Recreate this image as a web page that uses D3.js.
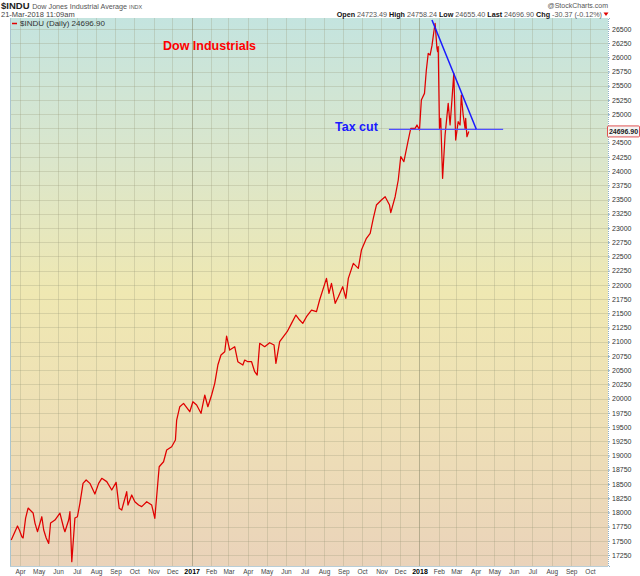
<!DOCTYPE html>
<meta charset="utf-8">
<head>
    <style>
        body { margin: 0; background: #fff; }
        text { font-family: "Liberation Sans", Arial, sans-serif; }
    </style>
</head>
<body>
<div id="chart"></div>

<script src="https://d3js.org/d3.v7.min.js"></script>
<script>
    // ---- data ----
    let dates = [
        "2016-03-18","2016-03-28","2016-03-31","2016-04-04","2016-04-06","2016-04-10","2016-04-14","2016-04-22",
        "2016-04-25","2016-04-29","2016-05-06","2016-05-09","2016-05-13","2016-05-17","2016-05-20","2016-05-27",
        "2016-06-04","2016-06-10","2016-06-12","2016-06-18","2016-06-20","2016-06-23","2016-06-28","2016-07-02",
        "2016-07-06","2016-07-11","2016-07-16","2016-07-22","2016-07-30","2016-08-05","2016-08-10","2016-08-18",
        "2016-08-26","2016-09-02","2016-09-07","2016-09-11","2016-09-19","2016-09-21","2016-09-27","2016-10-02",
        "2016-10-08","2016-10-13","2016-10-21","2016-10-29","2016-11-03","2016-11-10","2016-11-17","2016-11-22",
        "2016-11-30","2016-12-06","2016-12-08","2016-12-13","2016-12-19","2016-12-29",
        "2017-01-03","2017-01-09","2017-01-16","2017-01-22","2017-01-27","2017-02-02","2017-02-07","2017-02-12",
        "2017-02-17","2017-02-23","2017-02-26","2017-03-03","2017-03-11","2017-03-16","2017-03-24","2017-03-27",
        "2017-04-01","2017-04-07","2017-04-12","2017-04-16","2017-04-20","2017-04-28","2017-05-06","2017-05-13",
        "2017-05-16","2017-05-22","2017-05-28","2017-06-03","2017-06-10","2017-06-17","2017-06-23","2017-06-28",
        "2017-07-04","2017-07-12","2017-07-20","2017-07-25","2017-08-05","2017-08-09","2017-08-13","2017-08-19",
        "2017-08-24","2017-08-31","2017-09-05","2017-09-09","2017-09-17","2017-09-25","2017-09-30","2017-10-08",
        "2017-10-14","2017-10-19","2017-10-24","2017-11-01","2017-11-07","2017-11-14","2017-11-16","2017-11-23",
        "2017-11-28","2017-12-02","2017-12-07","2017-12-14","2017-12-18","2017-12-25","2017-12-28",
        "2018-01-01","2018-01-04","2018-01-09","2018-01-12","2018-01-15","2018-01-18","2018-01-21","2018-01-24",
        "2018-01-26","2018-01-29","2018-01-30","2018-01-31","2018-02-02","2018-02-04","2018-02-07","2018-02-11",
        "2018-02-16","2018-02-19","2018-02-21","2018-02-25","2018-02-28","2018-03-04","2018-03-07","2018-03-09",
        "2018-03-12","2018-03-15","2018-03-16","2018-03-18","2018-03-21"
    ];
    let closes = [
        17514,17760,17690,17572,17550,17900,18076,17990,
        17812,17660,17923,17690,17549,17455,17812,17865,
        17988,17725,17660,17865,18011,17132,17900,17923,
        18159,18510,18569,18510,18322,18510,18598,18540,
        18393,18528,18071,18041,18363,18129,18305,18187,
        18129,18100,18187,18129,17895,18802,18890,19096,
        19153,19271,19623,19857,19916,19769,
        19945,19887,19741,20063,19857,20063,20268,20590,
        20766,20824,21100,20854,20912,20648,20590,20678,
        20648,20648,20473,20414,20972,20912,20982,20942,
        20620,21000,21088,21176,21323,21469,21381,21323,
        21440,21557,21528,21733,22114,21850,22026,21675,
        21791,21967,21763,22114,22378,22290,22612,22817,
        22905,23169,23403,23491,23549,23403,23268,23549,
        23843,24253,24165,24546,24751,24751,24810,
        24722,25249,25366,25776,26069,26040,26204,26450,
        26597,26157,26098,26186,24751,24927,23872,24634,
        25190,24810,25102,25717,24546,24868,24810,25337,
        24986,24751,24927,24604,24697
    ];
    let lastPrice = "24696.90";
    let yTicks = d3.range(17250, 26501, 250);
    let hiddenTick = 24750;   // covered by the last-price tag
    let monthNames = ["Jan","Feb","Mar","Apr","May","Jun","Jul","Aug","Sep","Oct","Nov","Dec"];

    // annotations
    let taxCutDates = ["2017-11-13", "2018-05-15"];
    let taxCutLevel = 24734;
    let trendDates = ["2018-01-21", "2018-04-02"];
    let trendValues = [26656, 24734];

    let quoteItems = [
        ["Open", "24723.49"], ["High", "24758.24"], ["Low", "24655.40"],
        ["Last", "24696.90"], ["Chg", "-30.37 (-0.12%)"]
    ];

    // ---- setup ----
    let svgWidth = 640, svgHeight = 576;
    let plot = {left: 10, right: 608, top: 18, bottom: 566};
    let parse = d3.timeParse("%Y-%m-%d");

    let data = dates.map((d, i) => ({date: parse(d), close: closes[i]}));

    let x = d3.scaleTime()
        .domain([parse("2016-03-16"), parse("2018-10-30")])
        .range([plot.left, plot.right]);
    let y = d3.scaleLinear()
        .domain([17057, 26691])
        .range([plot.bottom, plot.top]);

    let monthTicks = d3.timeMonth.range(parse("2016-04-01"), parse("2018-10-02"));

    let svg = d3.select('#chart').append('svg')
        .attr('width', svgWidth)
        .attr('height', svgHeight);

    // background gradient
    let grad = svg.append('defs').append('linearGradient')
        .attr('id', 'bg').attr('x1', 0).attr('y1', 0).attr('x2', 0).attr('y2', 1);
    grad.append('stop').attr('offset', '0%').attr('stop-color', '#c4e4df');
    grad.append('stop').attr('offset', '25%').attr('stop-color', '#dae6cc');
    grad.append('stop').attr('offset', '50%').attr('stop-color', '#efe8b2');
    grad.append('stop').attr('offset', '75%').attr('stop-color', '#eedfb6');
    grad.append('stop').attr('offset', '100%').attr('stop-color', '#ead3ba');

    svg.append('rect')
        .attr('x', plot.left).attr('y', plot.top)
        .attr('width', plot.right - plot.left)
        .attr('height', plot.bottom - plot.top)
        .attr('fill', 'url(#bg)');

    // grid
    svg.append('g').selectAll('line')
        .data(yTicks).enter().append('line')
        .attr('x1', plot.left).attr('x2', plot.right)
        .attr('y1', d => Math.round(y(d)) + 0.5).attr('y2', d => Math.round(y(d)) + 0.5)
        .attr('stroke', 'rgba(150,150,120,0.28)');
    svg.append('g').selectAll('line')
        .data(monthTicks).enter().append('line')
        .attr('y1', plot.top).attr('y2', plot.bottom)
        .attr('x1', d => Math.round(x(d)) + 0.5).attr('x2', d => Math.round(x(d)) + 0.5)
        .attr('stroke', d => d.getMonth() === 0 ? 'rgba(130,130,100,0.5)' : 'rgba(150,150,120,0.28)');

    // frame
    svg.append('line')
        .attr('x1', plot.left + 0.5).attr('x2', plot.left + 0.5)
        .attr('y1', plot.top).attr('y2', plot.bottom)
        .attr('stroke', '#a9c4cf');
    svg.append('line')
        .attr('x1', plot.left).attr('x2', plot.right)
        .attr('y1', plot.bottom + 0.5).attr('y2', plot.bottom + 0.5)
        .attr('stroke', '#b9cdd6');

    // right axis
    let yAxis = svg.append('g')
        .attr('transform', `translate(${plot.right}, 0)`)
        .call(d3.axisRight(y).tickValues(yTicks).tickSize(2).tickPadding(2)
            .tickFormat(d => d === hiddenTick ? '' : d3.format('d')(d)));
    yAxis.select('.domain').attr('stroke', '#8fb0c8').attr('stroke-dasharray', '1,1');
    yAxis.selectAll('.tick line').attr('stroke', '#8fb0c8');
    yAxis.selectAll('text')
        .style('font-family', '"Liberation Sans", Arial, sans-serif')
        .style('font-size', '7px').attr('fill', '#333');

    // bottom axis
    let xAxis = svg.append('g')
        .attr('transform', `translate(0, ${plot.bottom})`)
        .call(d3.axisBottom(x).tickValues(monthTicks).tickSize(0).tickPadding(3)
            .tickFormat(d => d.getMonth() === 0 ? d.getFullYear() : monthNames[d.getMonth()]));
    xAxis.select('.domain').remove();
    xAxis.selectAll('text')
        .style('font-family', '"Liberation Sans", Arial, sans-serif')
        .style('font-size', d => d.getMonth() === 0 ? '7px' : '6.5px')
        .style('font-weight', d => d.getMonth() === 0 ? 'bold' : 'normal')
        .attr('fill', d => d.getMonth() === 0 ? '#000' : '#444');

    // price line
    svg.append('path')
        .datum(data)
        .attr('fill', 'none')
        .attr('stroke', '#e00000')
        .attr('stroke-width', 1.25)
        .attr('stroke-linejoin', 'round')
        .attr('d', d3.line().x(d => x(d.date)).y(d => y(d.close)));

    // annotation lines
    svg.append('line')
        .attr('x1', x(parse(taxCutDates[0]))).attr('x2', x(parse(taxCutDates[1])))
        .attr('y1', y(taxCutLevel)).attr('y2', y(taxCutLevel))
        .attr('stroke', '#5050ff').attr('stroke-width', 1.2);
    svg.append('line')
        .attr('x1', x(parse(trendDates[0]))).attr('x2', x(parse(trendDates[1])))
        .attr('y1', y(trendValues[0])).attr('y2', y(trendValues[1]))
        .attr('stroke', '#1a1aff').attr('stroke-width', 1.5);

    svg.append('text')
        .attr('x', 163).attr('y', 50)
        .style('font-size', '12.5px').style('font-weight', 'bold')
        .attr('fill', '#ff0000')
        .text('Dow Industrials');
    svg.append('text')
        .attr('x', 335).attr('y', 131)
        .style('font-size', '12.5px').style('font-weight', 'bold')
        .attr('fill', '#1a1aff')
        .text('Tax cut');

    // legend
    svg.append('line')
        .attr('x1', 12).attr('x2', 17).attr('y1', 23.5).attr('y2', 23.5)
        .attr('stroke', '#e00000').attr('stroke-width', 1.5);
    svg.append('text')
        .attr('x', 20).attr('y', 26)
        .style('font-size', '8px').attr('fill', '#333')
        .text('$INDU (Daily) ' + lastPrice);

    // last price tag
    let lastY = y(closes[closes.length - 1]);
    svg.append('rect')
        .attr('x', 607.5).attr('y', lastY - 5.5)
        .attr('width', 32).attr('height', 11).attr('rx', 1)
        .attr('fill', '#f5f5f5').attr('stroke', '#e05050');
    svg.append('text')
        .attr('x', 623.5).attr('y', lastY + 2.5)
        .attr('text-anchor', 'middle')
        .style('font-size', '7px').style('font-weight', 'bold').attr('fill', '#222')
        .text(lastPrice);

    // header
    let head = svg.append('text').attr('x', 1).attr('y', 9);
    head.append('tspan').style('font-size', '9.5px').style('font-weight', 'bold').attr('fill', '#222').text('$INDU ');
    head.append('tspan').style('font-size', '7.2px').attr('fill', '#555').text('Dow Jones Industrial Average ');
    head.append('tspan').style('font-size', '5.5px').attr('fill', '#555').text('INDX');

    svg.append('text').attr('x', 1).attr('y', 17)
        .style('font-size', '7.5px').attr('fill', '#444')
        .text('21-Mar-2018 11:09am');

    svg.append('text').attr('x', 608).attr('y', 8)
        .attr('text-anchor', 'end')
        .style('font-size', '7px').attr('fill', '#555')
        .text('@StockCharts.com');

    let quote = svg.append('text').attr('x', 602).attr('y', 16.5).attr('text-anchor', 'end')
        .style('font-size', '7.2px');
    quoteItems.forEach((q, i) => {
        quote.append('tspan').style('font-weight', 'bold').attr('fill', '#111').text((i ? '  ' : '') + q[0] + ' ');
        quote.append('tspan').attr('fill', '#555').text(q[1]);
    });
    svg.append('path')
        .attr('d', 'M603.5,12.5 L608.5,12.5 L606,16 Z')
        .attr('fill', '#e00000');
</script>
</body>
